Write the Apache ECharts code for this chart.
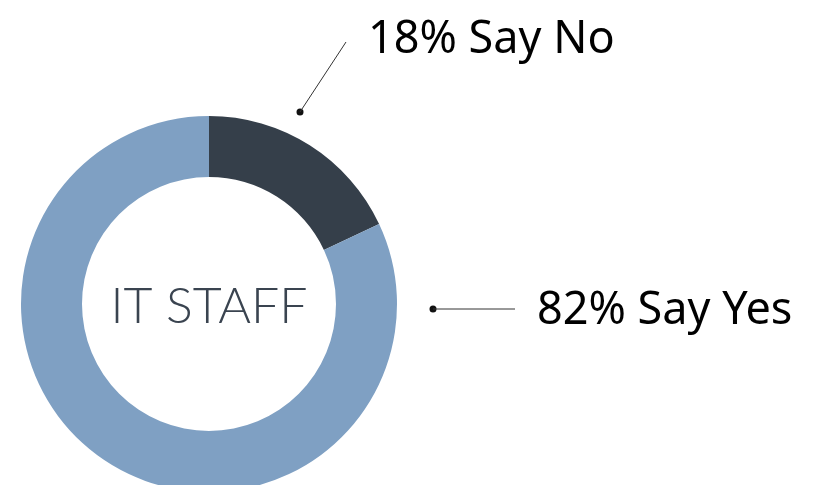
<!DOCTYPE html>
<html>
<head>
<meta charset="utf-8">
<script src="https://cdn.jsdelivr.net/npm/echarts@6/dist/echarts.min.js"></script>
<style>
  html, body { margin: 0; padding: 0; background: #fff; }
  #chart { width: 818px; height: 485px; }
</style>
</head>
<body>
<div id="chart"></div>
<script>
// 数据
const categories = ['Say No', 'Say Yes']
const values = [18, 82]
const colors = ['#353f4a', '#7fa0c3']
const centerText = 'IT STAFF'

// 标签位置（布局）
const labelPos = [
  { x: 368, y: 40, line: [[300, 112], [346, 42], [346, 42]] },
  { x: 537, y: 311, line: [[433, 309], [515, 309], [515, 309]] }
]

const chart = echarts.init(document.getElementById('chart'))

const option = {
  animation: false,
  color: colors,
  graphic: [
    {
      type: 'text',
      style: {
        text: centerText,
        x: 209,
        y: 307,
        textAlign: 'center',
        textVerticalAlign: 'middle',
        fontFamily: 'Lato',
        fontWeight: 300,
        fontSize: 50,
        fill: '#3a4450'
      }
    },
    ...labelPos.map(p => ({
      type: 'circle',
      shape: { cx: p.line[0][0], cy: p.line[0][1], r: 3.5 },
      style: { fill: '#111' }
    }))
  ],
  series: [
    {
      type: 'pie',
      center: [209, 304],
      radius: [127, 188],
      startAngle: 90,
      clockwise: true,
      silent: true,
      data: categories.map((name, i) => ({ name: name, value: values[i] })),
      label: {
        show: true,
        formatter: p => p.value + '% ' + p.name,
        fontFamily: 'Noto Sans',
        fontSize: 45,
        color: '#000',
        overflow: 'none'
      },
      labelLine: {
        show: true,
        lineStyle: { color: '#333', width: 1 }
      },
      labelLayout: function (params) {
        const p = labelPos[params.dataIndex]
        return {
          x: p.x,
          y: p.y,
          align: 'left',
          verticalAlign: 'middle',
          width: 300,
          labelLinePoints: p.line
        }
      }
    }
  ]
}

chart.setOption(option)
</script>
</body>
</html>
